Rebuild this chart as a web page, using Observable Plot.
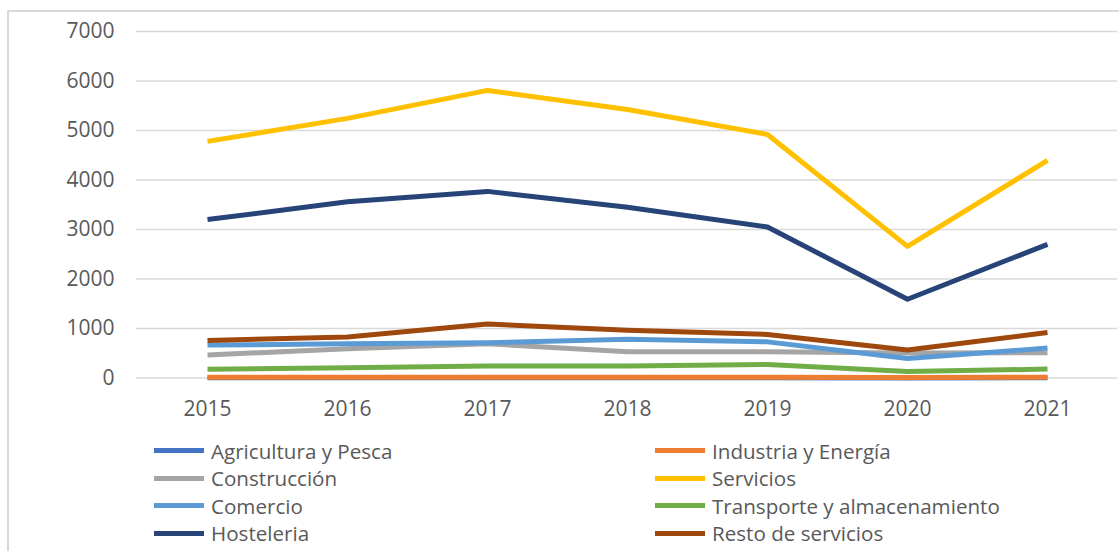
<!DOCTYPE html>
<html>
<head>
<meta charset="utf-8">
<script src="https://cdn.jsdelivr.net/npm/d3@7"></script>
<script src="https://cdn.jsdelivr.net/npm/@observablehq/plot@0.6"></script>
<style>
  html, body { margin: 0; padding: 0; background: #fff; }
  body { width: 1119px; height: 551px; overflow: hidden; position: relative; font-family: "Open Sans", sans-serif; }
  #frame { position: absolute; left: 7px; top: 10px; width: 1200px; height: 700px; border: 2px solid #d9d9d9; box-sizing: border-box; pointer-events: none; }
  #chart { position: absolute; left: 0; top: 0; }
  #legend { display: grid; grid-template-columns: 501px 460px; padding-left: 154px; }
  .item { height: 27.5px; display: flex; align-items: center; font-size: 20.6px; color: #595959; white-space: nowrap; }
  .sw { display: inline-block; width: 50px; height: 5px; margin-right: 7px; }
</style>
</head>
<body>
<div id="frame"></div>
<div id="chart"></div>
<script>
const years = [2015, 2016, 2017, 2018, 2019, 2020, 2021];
const seriesNames = ["Agricultura y Pesca", "Industria y Energía", "Construcción", "Servicios", "Comercio", "Transporte y almacenamiento", "Hosteleria", "Resto de servicios"];
const seriesColors = ["#4472C4", "#ED7D31", "#A5A5A5", "#FFC000", "#5B9BD5", "#70AD47", "#264478", "#9E480E"];
const agricultura = [3, 3, 3, 3, 3, 2, 3];
const industria = [14, 15, 16, 16, 15, 12, 14];
const construccion = [465, 590, 690, 530, 530, 505, 510];
const servicios = [4780, 5245, 5810, 5425, 4920, 2660, 4395];
const comercio = [665, 690, 710, 785, 730, 395, 605];
const transporte = [175, 205, 240, 240, 275, 130, 180];
const hosteleria = [3200, 3560, 3770, 3450, 3050, 1590, 2700];
const resto = [760, 830, 1090, 965, 880, 565, 920];
const yTicks = [0, 1000, 2000, 3000, 4000, 5000, 6000, 7000];

const allValues = [agricultura, industria, construccion, servicios, comercio, transporte, hosteleria, resto];
const data = [];
seriesNames.forEach((s, i) => years.forEach((y, j) => data.push({serie: s, year: String(y), value: allValues[i][j]})));

const plot = Plot.plot({
  width: 1119,
  height: 437,
  marginLeft: 136,
  marginRight: 2,
  marginTop: 31,
  marginBottom: 59.5,
  style: { fontFamily: "Open Sans, sans-serif", fontSize: "21px", color: "#595959", background: "transparent" },
  x: { type: "point", domain: years.map(String), padding: 0.5, label: null },
  y: { domain: [0, 7000], ticks: yTicks, label: null },
  color: { domain: seriesNames, range: seriesColors },
  marks: [
    Plot.ruleY(yTicks, { stroke: "#d9d9d9", strokeWidth: 1.6 }),
    Plot.axisY({ ticks: yTicks, tickSize: 0, tickPadding: 22, label: null, tickFormat: d => String(d), fontSize: 21 }),
    Plot.axisX({ tickSize: 0, tickPadding: 23, label: null, fontSize: 21 }),
    Plot.line(data, { x: "year", y: "value", z: "serie", stroke: "serie", strokeWidth: 5, strokeLinejoin: "round", strokeLinecap: "butt" })
  ]
});
const chart = document.getElementById("chart");
chart.appendChild(plot);

const legend = document.createElement("div");
legend.id = "legend";
seriesNames.forEach((s, i) => {
  const it = document.createElement("div");
  it.className = "item";
  const sw = document.createElement("span");
  sw.className = "sw";
  sw.style.background = seriesColors[i];
  it.appendChild(sw);
  it.appendChild(document.createTextNode(s));
  legend.appendChild(it);
});
chart.appendChild(legend);
</script>
</body>
</html>
